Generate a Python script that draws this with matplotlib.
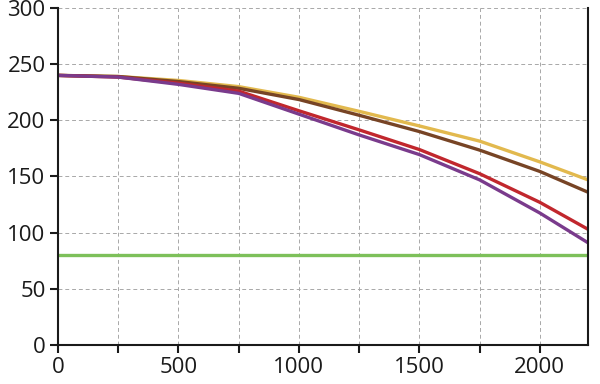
import matplotlib
matplotlib.use('Agg')
import matplotlib.pyplot as plt

plt.rcParams['font.family'] = ['Open Sans', 'DejaVu Sans']

x = [0, 250, 500, 750, 1000, 1250, 1500, 1750, 2000, 2200]
yellow = [240, 239, 235.5, 230, 220.5, 208, 195, 181.5, 163, 147]
brown = [240, 239, 234.5, 228.5, 218.5, 204.5, 190, 173.5, 154.5, 136]
red = [240, 238.5, 233, 226, 208.5, 191.5, 174, 152.5, 127, 103]
purple = [240, 238.5, 232, 224, 205.5, 187, 169.5, 147, 117.5, 91]
green = [80] * len(x)

series = [
    (yellow, '#E2B94E'),
    (brown, '#774425'),
    (red, '#C1272D'),
    (purple, '#7A3B8C'),
]

fig = plt.figure(figsize=(6, 3.84), dpi=100)
ax = fig.add_axes([0.0967, 0.1016, 0.8833, 0.8776])

ax.plot(x, green, color='#7DC05A', lw=2.4, solid_capstyle='butt')
for vals, c in series:
    ax.plot(x, vals, color=c, lw=2.4, solid_capstyle='butt',
            solid_joinstyle='round')

ax.set_xlim(0, 2200)
ax.set_ylim(0, 300)
xt = list(range(0, 2201, 250))
ax.set_xticks(xt)
ax.set_xticklabels([str(t) if t % 500 == 0 else '' for t in xt])
ax.set_yticks(range(0, 301, 50))

ax.grid(True, color='#a8a8a8', ls=(0, (4, 3)), lw=0.7)
ax.set_axisbelow(True)
ax.spines['top'].set_visible(False)
for s in ['left', 'bottom', 'right']:
    ax.spines[s].set_linewidth(1.5)
    ax.spines[s].set_color('#1a1a1a')
ax.tick_params(direction='out', length=6, width=1.5, color='#1a1a1a',
               labelsize=16, labelcolor='#1a1a1a', pad=3)

plt.savefig('out.png', dpi=100)
